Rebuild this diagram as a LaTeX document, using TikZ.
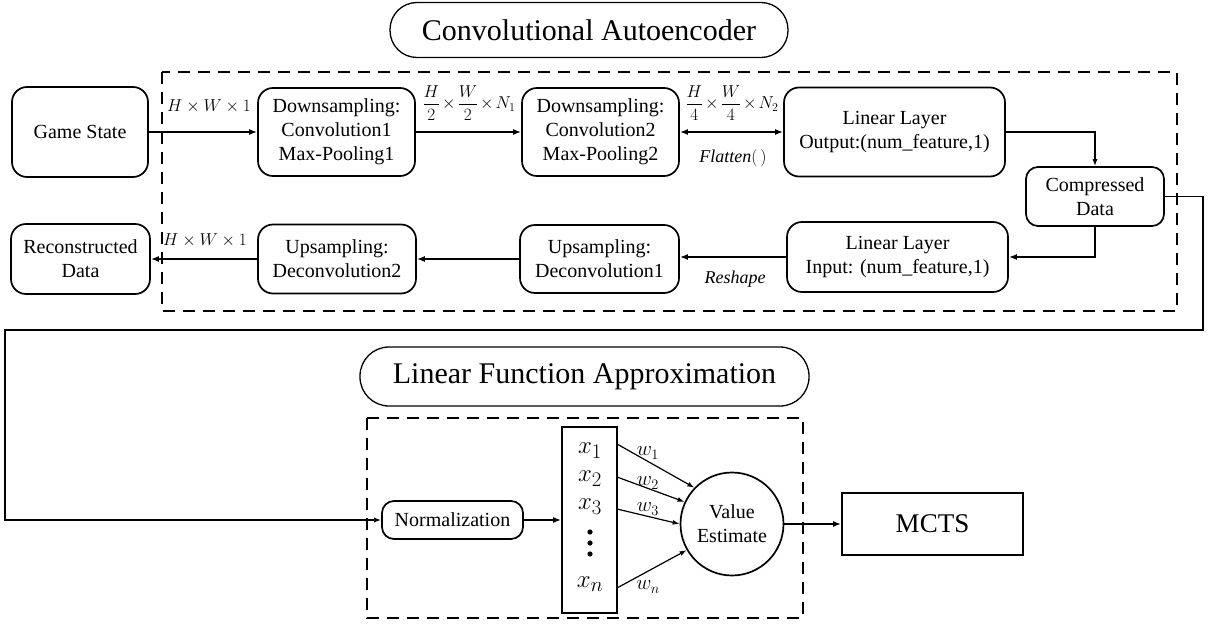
\documentclass[tikz,border=0pt]{standalone}
\usepackage{fontspec}
\setmainfont{Liberation Serif}
\usetikzlibrary{arrows.meta}
\begin{document}
\begin{tikzpicture}[x=1pt,y=-1pt,
    box/.style={draw, line width=1.7pt, rounded corners=15pt, align=center, inner sep=0pt,
        font=\fontsize{20}{24}\selectfont},
    head/.style={draw, line width=1.3pt, rounded corners=27pt, inner sep=0pt,
        font=\fontsize{30}{34}\selectfont},
    lbl/.style={inner sep=0pt, font=\fontsize{18}{20}\selectfont},
    arr/.style={-{Latex[length=8pt,width=6pt]}, line width=1.7pt},
    thinarr/.style={-{Latex[length=7pt,width=5pt]}, line width=1.2pt},
    frame/.style={line width=1.8pt, dash pattern=on 12pt off 8pt}]
    \useasboundingbox (0,0) rectangle (1208,626);

    % convolutional autoencoder
    \node[head, minimum width=398, minimum height=55] (tca) at (589,30) {Convolutional Autoencoder};
    \draw[frame] (162,72) rectangle (1177,311);

    \node[box, minimum width=136, minimum height=90] (gs) at (80,132) {Game State};
    \node[box, minimum width=157, minimum height=88] (dn1) at (336.5,132) {Downsampling:\\Convolution1\\Max-Pooling1};
    \node[box, minimum width=157, minimum height=88] (dn2) at (600.5,132) {Downsampling:\\Convolution2\\Max-Pooling2};
    \node[box, minimum width=221, minimum height=89] (lo) at (894.5,132) {Linear Layer\\Output:(num\_feature,1)};
    \node[box, minimum width=138, minimum height=59, rounded corners=12pt] (cd) at (1095,196.5) {Compressed\\Data};
    \node[box, minimum width=221, minimum height=70] (li) at (897.5,257) {Linear Layer\\Input: (num\_feature,1)};
    \node[box, minimum width=159, minimum height=68] (up1) at (599.5,259) {Upsampling:\\Deconvolution1};
    \node[box, minimum width=158, minimum height=69] (up2) at (337,259) {Upsampling:\\Deconvolution2};
    \node[box, minimum width=139, minimum height=70] (rd) at (80.5,259) {Reconstructed\\Data};

    \draw[arr] (gs) -- (dn1);
    \draw[arr] (dn1) -- (dn2);
    \draw[arr, {Latex[length=8pt,width=6pt]}-{Latex[length=8pt,width=6pt]}] (dn2) -- (lo);
    \draw[thinarr] (lo.east) -| (cd.north);
    \draw[arr] (cd.south) |- (li.east);
    \draw[arr] (li.west) -- (li.west -| up1.east);
    \draw[arr] (up1.west) -- (up1.west -| up2.east);
    \draw[arr] (up2.west) -- (up2.west -| rd.east);

    \node[lbl, font=\fontsize{19}{20}\selectfont] (s0) at (209,106) {$H\times W\times 1$};
    \node[lbl] (s1) at (469,103) {$\medmuskip=2mu\displaystyle\frac{H}{2}\times\frac{W}{2}\times N_1$};
    \node[lbl] (s2) at (732,103) {$\medmuskip=2mu\displaystyle\frac{H}{4}\times\frac{W}{4}\times N_2$};
    \node[lbl] (fl) at (733,158) {$\mathit{Flatten}(\,)$};
    \node[lbl] (rs) at (735,279) {$\mathit{Reshape}$};
    \node[lbl, font=\fontsize{19}{20}\selectfont] (s3) at (205,240) {$H\times W\times 1$};

    % linear function approximation
    \node[head, minimum width=449, minimum height=59, rounded corners=29pt] (tlf) at (584.5,376.5) {Linear Function Approximation};
    \draw[frame] (367,418) rectangle (803,618);

    \node[box, minimum width=141, minimum height=38, rounded corners=12pt] (nm) at (452.5,520) {Normalization};
    \node[draw, line width=1.7pt, minimum width=55, minimum height=186, inner sep=0pt] (xb) at (589.5,520) {};
    \node[lbl, font=\fontsize{28}{28}\selectfont] (x1) at (590,451) {$x_1$};
    \node[lbl, font=\fontsize{28}{28}\selectfont] (x2) at (590,479) {$x_2$};
    \node[lbl, font=\fontsize{28}{28}\selectfont] (x3) at (590,507) {$x_3$};
    \node[lbl, font=\fontsize{28}{28}\selectfont] (xn) at (590,584) {$x_n$};
    \foreach \yy in {532,543,554}
        \fill (590,\yy) circle (2.6);
    \node[draw, circle, line width=1.7pt, minimum size=103, inner sep=0pt, align=center,
        font=\fontsize{20}{24}\selectfont] (ve) at (732,524) {Value\\Estimate};
    \node[draw, line width=1.9pt, minimum width=181, minimum height=62,
        font=\fontsize{27}{30}\selectfont] (mc) at (932.5,524) {MCTS};

    \foreach \i/\yy/\ang/\wy in {1/444/136/453, 2/477/155/483, 3/509/180/509, n/588/210/587} {
        \coordinate (p\i) at (617,\yy);
        \draw[thinarr] (p\i) -- (ve.\ang);
        \node[lbl, font=\fontsize{20}{22}\selectfont] (w\i) at (648,\wy) {$w_{\i}$};
    }

    \coordinate (fb1) at (1203,330);
    \coordinate (fb2) at (5,330);
    \draw[thinarr] (cd.east) -| (fb1) -- (fb2) |- (nm.west);
    \draw[arr] (nm) -- (xb);
    \draw[arr] (ve) -- (mc);
\end{tikzpicture}
\end{document}
